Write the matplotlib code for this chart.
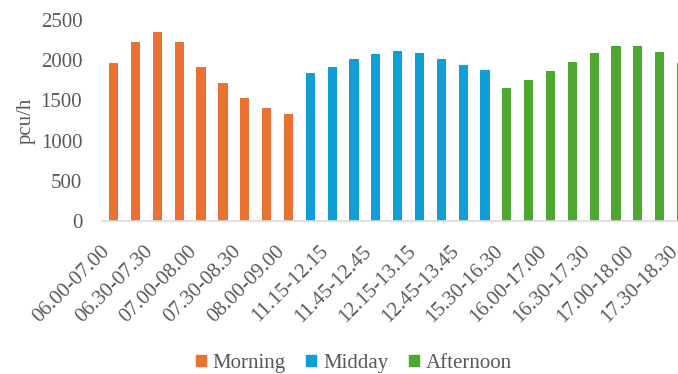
import numpy as np
import matplotlib
matplotlib.use('Agg')
import matplotlib.pyplot as plt
from matplotlib.patches import Patch
from matplotlib.transforms import ScaledTranslation

morning_labels = ['06.00-07.00', '06.15-07.15', '06.30-07.30', '06.45-07.45', '07.00-08.00',
                  '07.15-08.15', '07.30-08.30', '07.45-08.45', '08.00-09.00']
midday_labels = ['11.00-12.00', '11.15-12.15', '11.30-12.30', '11.45-12.45', '12.00-13.00',
                 '12.15-13.15', '12.30-13.30', '12.45-13.45', '13.00-14.00']
afternoon_labels = ['15.30-16.30', '15.45-16.45', '16.00-17.00', '16.15-17.15', '16.30-17.30',
                    '16.45-17.45', '17.00-18.00', '17.15-18.15', '17.30-18.30']

morning = [1960, 2225, 2345, 2225, 1920, 1720, 1530, 1400, 1330]
midday = [1840, 1910, 2010, 2075, 2110, 2085, 2010, 1945, 1880]
afternoon = [1660, 1750, 1860, 1980, 2095, 2175, 2175, 2100, 1970]

colors = {'Morning': '#E97132', 'Midday': '#0F9ED5', 'Afternoon': '#4EA72E'}
grey = '#595959'

plt.rcParams['font.family'] = ['Liberation Serif', 'DejaVu Serif']

fig = plt.figure(figsize=(6.78, 3.74), dpi=100)
ax = fig.add_axes([0.150, 0.409, 0.873, 0.5375])

labels = morning_labels + midday_labels + afternoon_labels
x = np.arange(len(labels))
start = 0
for name, vals in [('Morning', morning), ('Midday', midday), ('Afternoon', afternoon)]:
    xs = x[start:start + len(vals)]
    ax.bar(xs, vals, width=0.42, color=colors[name])
    start += len(vals)

ax.set_xlim(-0.55, len(labels) - 0.45)
ax.set_ylim(0, 2500)
ax.set_yticks(range(0, 2501, 500))
ax.set_xticks(x[::2])
ax.set_xticklabels(labels[::2], rotation=45, ha='right', va='top')
# labels sit a little right of their ticks in the original
shift = ScaledTranslation(3 / 100, 0, fig.dpi_scale_trans)
for lbl in ax.get_xticklabels():
    lbl.set_transform(lbl.get_transform() + shift)

for s in ['top', 'right', 'left']:
    ax.spines[s].set_visible(False)
ax.spines['bottom'].set_color('#D9D9D9')
ax.spines['bottom'].set_linewidth(1.2)
ax.tick_params(axis='both', length=0, labelsize=15, colors=grey)
ax.tick_params(axis='y', pad=14)
ax.tick_params(axis='x', pad=15)

ax.set_ylabel('pcu/h', fontsize=15, color=grey)
ax.yaxis.set_label_coords(-0.111, 0.5)

handles = [Patch(color=colors[k], label=k) for k in colors]
leg = fig.legend(handles=handles, loc='center', bbox_to_anchor=(0.522, 0.028), ncol=3,
                 frameon=False, fontsize=15, handlelength=0.48, handleheight=0.48,
                 handletextpad=0.33, columnspacing=1.0)
for t in leg.get_texts():
    t.set_color(grey)

fig.savefig('out.png', dpi=100)
